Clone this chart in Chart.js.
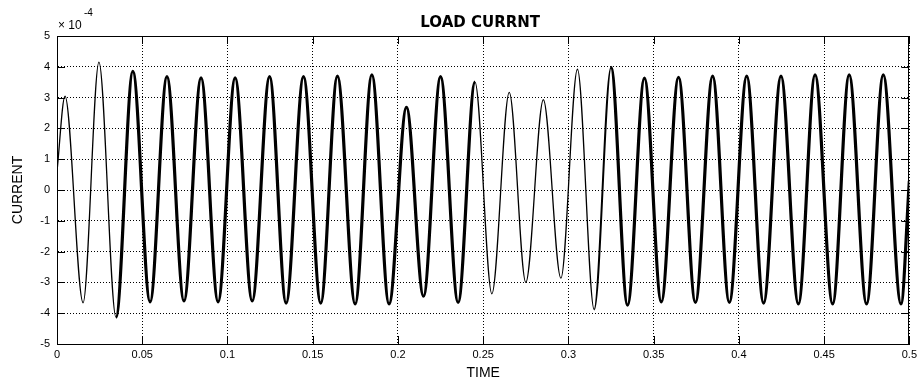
<!DOCTYPE html>
<html>
<head>
<meta charset="utf-8">
<title>Load current</title>
<script src="https://cdn.jsdelivr.net/npm/chart.js@4.4.1/dist/chart.umd.min.js"></script>
<style>
    html, body { margin: 0; padding: 0; background: #fff; }
    #wrap { width: 921px; height: 383px; }
</style>
</head>
<body>
<div id="wrap"><canvas id="load-chart" width="921" height="383"></canvas></div>
<script>
"use strict";

// values are in units of 1e-4 (axis multiplier is drawn separately)
var peakTimes = [0.0047, 0.0246, 0.0445, 0.0645, 0.0845, 0.1045, 0.1247, 0.1446, 0.1645, 0.1847,
                 0.2050, 0.2250, 0.2452, 0.2653, 0.2853, 0.3053, 0.3250, 0.3446, 0.3646, 0.3846,
                 0.4046, 0.4247, 0.4447, 0.4647, 0.4847];
var peakValues = [3.05, 4.15, 3.85, 3.68, 3.64, 3.64, 3.68, 3.68, 3.70, 3.74,
                  2.68, 3.68, 3.50, 3.17, 2.93, 3.92, 3.98, 3.63, 3.66, 3.70,
                  3.70, 3.70, 3.74, 3.74, 3.74];
var troughTimes = [0.0153, 0.0346, 0.0546, 0.0745, 0.0945, 0.1145, 0.1344, 0.1547, 0.1749, 0.1948,
                   0.2150, 0.2353, 0.2551, 0.2750, 0.2956, 0.3151, 0.3347, 0.3545, 0.3745, 0.3944,
                   0.4145, 0.4349, 0.4550, 0.4749, 0.4951];
var troughValues = [-3.66, -4.13, -3.63, -3.60, -3.63, -3.60, -3.67, -3.67, -3.70, -3.70,
                    -3.45, -3.65, -3.37, -3.00, -2.86, -3.88, -3.74, -3.63, -3.65, -3.65,
                    -3.67, -3.70, -3.70, -3.70, -3.70];
var edgeTimes = [0, 0.5];
var edgeValues = [0.6, 0.3];

var xTicks = [0, 0.05, 0.1, 0.15, 0.2, 0.25, 0.3, 0.35, 0.4, 0.45, 0.5];
var yTicks = [-5, -4, -3, -2, -1, 0, 1, 2, 3, 4, 5];

// where the waveform is drawn without the ripple (thin trace)
var thinRanges = [[0, 0.034], [0.245, 0.315]];
var mediumRanges = [[0.315, 0.325]];

function inRanges(x, ranges) {
    for (var i = 0; i < ranges.length; i++) {
        if (x >= ranges[i][0] && x < ranges[i][1]) return true;
    }
    return false;
}

// peak / trough table in time order
var points = [{x: edgeTimes[0], y: edgeValues[0]}];
for (var i = 0; i < peakTimes.length; i++) {
    points.push({x: peakTimes[i], y: peakValues[i]});
    points.push({x: troughTimes[i], y: troughValues[i]});
}
points.push({x: edgeTimes[1], y: edgeValues[1]});

var tickFont = {family: "'Liberation Sans', Arial, sans-serif", size: 11};
var labelFont = {family: "'Liberation Sans', Arial, sans-serif", size: 14};

// MATLAB style frame: box, inward ticks, title and exponent
var matlabFrame = {
    id: 'matlabFrame',
    afterDraw: function (chart) {
        var ctx = chart.ctx;
        var a = chart.chartArea;
        var xs = chart.scales.x, ys = chart.scales.y;
        var tl = 8;
        ctx.save();
        ctx.strokeStyle = '#000';
        ctx.lineWidth = 1;
        ctx.setLineDash([]);
        ctx.beginPath();
        xTicks.forEach(function (v) {
            var px = Math.round(xs.getPixelForValue(v)) + 0.5;
            ctx.moveTo(px, a.bottom); ctx.lineTo(px, a.bottom - tl);
            ctx.moveTo(px, a.top); ctx.lineTo(px, a.top + tl);
        });
        yTicks.forEach(function (v) {
            var py = Math.round(ys.getPixelForValue(v)) + 0.5;
            ctx.moveTo(a.left, py); ctx.lineTo(a.left + tl, py);
            ctx.moveTo(a.right, py); ctx.lineTo(a.right - tl, py);
        });
        ctx.stroke();
        ctx.strokeRect(Math.round(a.left) + 0.5, Math.round(a.top) + 0.5,
                       Math.round(a.right - a.left) - 1, Math.round(a.bottom - a.top));

        ctx.fillStyle = '#000';
        ctx.textAlign = 'center';
        ctx.textBaseline = 'alphabetic';
        ctx.font = "bold 15px 'DejaVu Sans', sans-serif";
        ctx.fillText('LOAD CURRNT', (a.left + a.right) / 2 - 3, 27);

        ctx.textAlign = 'left';
        ctx.font = "12px 'Liberation Sans', Arial, sans-serif";
        ctx.fillText('\u00d7 10', a.left + 1, 29);
        ctx.font = "10px 'Liberation Sans', Arial, sans-serif";
        ctx.fillText('-4', a.left + 27, 16);
        ctx.restore();
    }
};

Chart.defaults.color = '#000';

var ctx = document.getElementById('load-chart').getContext('2d');
var loadChart = new Chart(ctx, {
    type: 'line',
    data: {
        datasets: [{
            label: 'Load current',
            data: points,
            borderColor: '#000',
            borderWidth: 3,
            pointRadius: 0,
            cubicInterpolationMode: 'monotone',
            segment: {
                borderWidth: function (c) {
                    var x = c.p0.parsed.x;
                    if (inRanges(x, thinRanges)) return 1.3;
                    if (inRanges(x, mediumRanges)) return 2;
                    return 3.2;
                }
            }
        }]
    },
    options: {
        responsive: false,
        animation: false,
        layout: {padding: {left: 0, right: 10, top: 36, bottom: 0}},
        plugins: {
            legend: {display: false},
            tooltip: {enabled: false},
            title: {display: false}
        },
        scales: {
            x: {
                type: 'linear',
                min: 0,
                max: 0.5,
                afterBuildTicks: function (scale) {
                    scale.ticks = xTicks.map(function (v) { return {value: v}; });
                },
                afterFit: function (scale) { scale.height = 39; },
                ticks: {
                    font: tickFont,
                    padding: 4,
                    autoSkip: false,
                    maxRotation: 0,
                    callback: function (v) { return String(v); }
                },
                grid: {color: '#000', lineWidth: 1, drawTicks: false},
                border: {display: true, color: '#000', dash: [1, 2]},
                title: {display: true, text: 'TIME', font: labelFont, padding: {top: 0, bottom: 1}}
            },
            y: {
                min: -5,
                max: 5,
                afterBuildTicks: function (scale) {
                    scale.ticks = yTicks.map(function (v) { return {value: v}; });
                },
                afterFit: function (scale) { scale.width = 57; },
                ticks: {
                    font: tickFont,
                    padding: 7,
                    callback: function (v) { return String(v); }
                },
                grid: {color: '#000', lineWidth: 1, drawTicks: false},
                border: {display: true, color: '#000', dash: [1, 2]},
                title: {display: true, text: 'CURRENT', font: labelFont, padding: {top: 10, bottom: 0}}
            }
        }
    },
    plugins: [matlabFrame]
});
</script>
</body>
</html>
